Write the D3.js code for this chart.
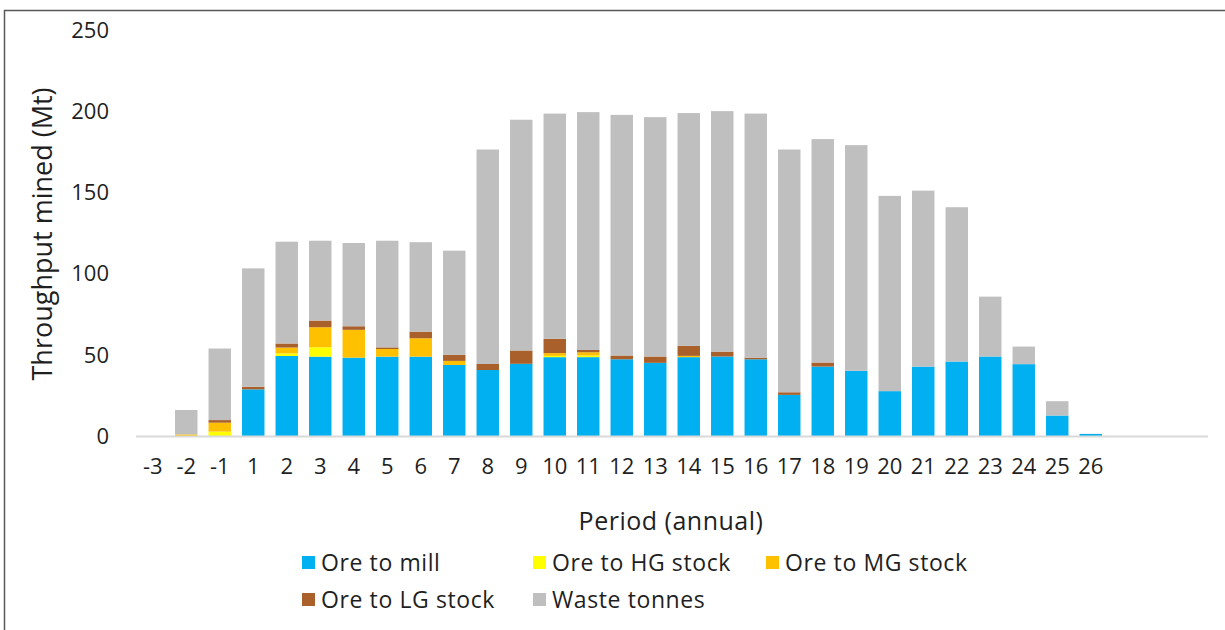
<!DOCTYPE html>
<html lang="en">
<head>
    <meta charset="UTF-8">
    <title>Throughput mined by period</title>
    <script src="https://d3js.org/d3.v7.min.js"></script>
    <style>
        html, body { margin: 0; padding: 0; background: #fff; }
        svg { display: block; font-family: "Open Sans", "Noto Sans", sans-serif; }
    </style>
</head>
<body>
    <div id="chart"></div>

    <script>
        // periods shown on the x axis (there is no period 0)
        const periods = ["-3", "-2", "-1", "1", "2", "3", "4", "5", "6", "7", "8", "9", "10",
            "11", "12", "13", "14", "15", "16", "17", "18", "19", "20", "21", "22", "23", "24", "25", "26"];
        // three empty slots at the right end of the axis
        const emptySlots = ["e1", "e2", "e3"];

        const seriesNames = ["Ore to mill", "Ore to HG stock", "Ore to MG stock", "Ore to LG stock", "Waste tonnes"];
        const seriesColors = ["#00b0f0", "#ffff00", "#ffc000", "#a9602a", "#bfbfbf"];

        // Mt per period
        const oreToMill = [0, 0, 0, 29, 49.5, 49.1, 48.5, 49.1, 49.1, 44, 40.9, 44.7, 48.8, 48.8, 47.5,
            45.3, 48.8, 49.2, 47.5, 25.6, 43, 40.4, 27.9, 43, 46.1, 49.2, 44.5, 12.9, 1.6];
        const oreToHG = [0, 0, 3, 0, 1.6, 5.8, 0, 0, 0, 0, 0, 0, 0.8, 1, 0,
            0, 0, 0, 0, 0, 0, 0, 0, 0, 0, 0, 0, 0, 0];
        const oreToMG = [0, 1.3, 5.5, 0, 3.6, 12.3, 17.1, 4.7, 11.3, 2.5, 0, 0, 1.7, 2, 0,
            0, 0.8, 0, 0, 0, 0, 0, 0, 0, 0, 0, 0, 0, 0];
        const oreToLG = [0, 0, 1.6, 1.6, 2.5, 4.1, 2.2, 1, 4.1, 3.7, 3.7, 8.2, 8.8, 1.4, 2.3,
            3.9, 6.1, 3, 1, 1.6, 2.5, 0, 0, 0, 0, 0, 0, 0, 0];
        const wasteTonnes = [0, 15, 44, 72.8, 62.6, 49.1, 51.2, 65.6, 55, 64.1, 131.9, 141.9, 138.5, 146.3, 148,
            147.2, 143.2, 147.9, 150.1, 149.3, 137.4, 138.8, 120.1, 108.2, 94.9, 36.8, 10.8, 8.8, 0];

        const yTicks = [0, 50, 100, 150, 200, 250];

        const width = 1225;
        const height = 630;

        // rows for d3.stack
        const keys = ["mill", "hg", "mg", "lg", "waste"];
        const rows = periods.map((p, i) => ({
            period: p,
            mill: oreToMill[i],
            hg: oreToHG[i],
            mg: oreToMG[i],
            lg: oreToLG[i],
            waste: wasteTonnes[i]
        }));
        const stacked = d3.stack().keys(keys)(rows);

        const svg = d3.select("#chart")
            .append("svg")
            .attr("width", width)
            .attr("height", height);

        // frame around the chart
        svg.append("rect")
            .attr("x", 4.5)
            .attr("y", 10.5)
            .attr("width", 1260)
            .attr("height", 660)
            .attr("fill", "none")
            .attr("stroke", "#595959")
            .attr("stroke-width", 1.5);

        const x = d3.scaleBand()
            .domain(periods.concat(emptySlots))
            .range([136, 1208])
            .paddingInner(0.33)
            .paddingOuter(0.165);

        const y = d3.scaleLinear()
            .domain([0, 250])
            .range([436.5, 30]);

        // bars
        svg.append("g")
            .selectAll("g")
            .data(stacked)
            .join("g")
            .attr("fill", (d, i) => seriesColors[i])
            .selectAll("rect")
            .data(d => d)
            .join("rect")
            .attr("x", d => x(d.data.period))
            .attr("y", d => y(d[1]))
            .attr("width", x.bandwidth())
            .attr("height", d => y(d[0]) - y(d[1]));

        // zero line
        svg.append("line")
            .attr("x1", 136)
            .attr("x2", 1208)
            .attr("y1", y(0))
            .attr("y2", y(0))
            .attr("stroke", "#d9d9d9")
            .attr("stroke-width", 2);

        // y axis
        const yAxis = svg.append("g")
            .attr("transform", "translate(136,0)")
            .call(d3.axisLeft(y).tickValues(yTicks).tickSize(0).tickPadding(27));
        yAxis.select(".domain").remove();
        yAxis.selectAll("text")
            .attr("font-family", "'Open Sans', sans-serif")
            .attr("font-size", 22)
            .attr("fill", "#1f1f1f");

        // x axis
        const xAxis = svg.append("g")
            .attr("transform", `translate(0,${y(0)})`)
            .call(d3.axisBottom(x).tickSize(0).tickPadding(22)
                .tickFormat(d => emptySlots.includes(d) ? "" : d));
        xAxis.select(".domain").remove();
        xAxis.selectAll("text")
            .attr("font-family", "'Open Sans', sans-serif")
            .attr("font-size", 22)
            .attr("fill", "#1f1f1f");

        // axis titles
        svg.append("text")
            .attr("transform", "translate(52,234) rotate(-90)")
            .attr("text-anchor", "middle")
            .attr("font-size", 27)
            .attr("fill", "#1f1f1f")
            .text("Throughput mined (Mt)");

        svg.append("text")
            .attr("x", 671)
            .attr("y", 530)
            .attr("text-anchor", "middle")
            .attr("font-size", 25)
            .attr("letter-spacing", 0.5)
            .attr("fill", "#1f1f1f")
            .text("Period (annual)");

        // legend: two rows
        const legendPos = [
            { x: 302, y: 563 }, { x: 533, y: 563 }, { x: 766, y: 563 },
            { x: 302, y: 600 }, { x: 533, y: 600 }
        ];
        const legend = svg.append("g")
            .selectAll("g")
            .data(seriesNames)
            .join("g")
            .attr("transform", (d, i) => `translate(${legendPos[i].x},${legendPos[i].y})`);

        legend.append("rect")
            .attr("x", 0)
            .attr("y", -7)
            .attr("width", 13)
            .attr("height", 13)
            .attr("fill", (d, i) => seriesColors[i]);

        legend.append("text")
            .attr("x", 19)
            .attr("y", 0)
            .attr("dy", "0.35em")
            .attr("font-size", 23)
            .attr("letter-spacing", 0.6)
            .attr("fill", "#1f1f1f")
            .text(d => d);
    </script>
</body>
</html>
